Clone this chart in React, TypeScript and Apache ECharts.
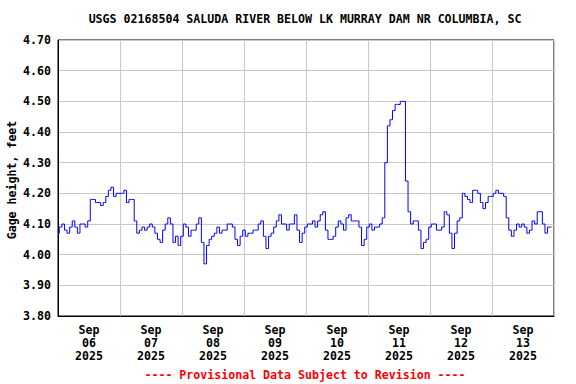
import React, { useEffect, useRef } from "react";
import * as echarts from "echarts";

// Hourly gage height (ft), starting at 00:00 of each day
const sep06 = [4.07, 4.09, 4.10, 4.08, 4.07, 4.09, 4.11, 4.09, 4.07, 4.10, 4.10, 4.09, 4.11, 4.18, 4.18, 4.17, 4.17, 4.16, 4.17, 4.19, 4.21, 4.22, 4.19, 4.20];
const sep07 = [4.20, 4.20, 4.21, 4.17, 4.18, 4.18, 4.11, 4.07, 4.08, 4.09, 4.08, 4.09, 4.10, 4.09, 4.07, 4.05, 4.04, 4.08, 4.10, 4.12, 4.10, 4.04, 4.06, 4.03];
const sep08 = [4.06, 4.10, 4.09, 4.06, 4.08, 4.08, 4.10, 4.12, 4.04, 3.97, 4.03, 4.05, 4.06, 4.07, 4.09, 4.07, 4.08, 4.08, 4.10, 4.10, 4.09, 4.05, 4.03, 4.06];
const sep09 = [4.08, 4.06, 4.07, 4.07, 4.08, 4.08, 4.10, 4.11, 4.06, 4.02, 4.06, 4.07, 4.09, 4.11, 4.13, 4.10, 4.10, 4.08, 4.10, 4.10, 4.13, 4.08, 4.04, 4.07];
const sep10 = [4.09, 4.10, 4.10, 4.11, 4.09, 4.11, 4.13, 4.14, 4.08, 4.05, 4.05, 4.06, 4.09, 4.11, 4.10, 4.08, 4.12, 4.13, 4.11, 4.11, 4.11, 4.09, 4.03, 4.05];
const sep11 = [4.09, 4.10, 4.08, 4.09, 4.09, 4.10, 4.12, 4.30, 4.42, 4.44, 4.47, 4.49, 4.49, 4.50, 4.50, 4.24, 4.14, 4.10, 4.11, 4.11, 4.08, 4.02, 4.04, 4.05];
const sep12 = [4.09, 4.10, 4.10, 4.08, 4.08, 4.09, 4.14, 4.13, 4.07, 4.02, 4.07, 4.11, 4.12, 4.20, 4.19, 4.18, 4.17, 4.21, 4.21, 4.20, 4.17, 4.15, 4.17, 4.19];
const sep13 = [4.19, 4.20, 4.21, 4.20, 4.20, 4.19, 4.12, 4.08, 4.06, 4.08, 4.10, 4.09, 4.10, 4.09, 4.07, 4.08, 4.11, 4.10, 4.14, 4.14, 4.10, 4.07, 4.09, 4.09];

const days = [sep06, sep07, sep08, sep09, sep10, sep11, sep12, sep13];
const dayLabels = ["Sep\n06\n2025", "Sep\n07\n2025", "Sep\n08\n2025", "Sep\n09\n2025", "Sep\n10\n2025", "Sep\n11\n2025", "Sep\n12\n2025", "Sep\n13\n2025"];
const yTicks = [3.8, 3.9, 4.0, 4.1, 4.2, 4.3, 4.4, 4.5, 4.6, 4.7];

const titleText = "USGS 02168504 SALUDA RIVER BELOW LK MURRAY DAM NR COLUMBIA, SC";
const footerText = "---- Provisional Data Subject to Revision ----";
const yName = "Gage height, feet";

const FONT = "'DejaVu Sans Mono', 'Liberation Mono', monospace";

export default function App() {
  const ref = useRef<HTMLDivElement>(null);
  useEffect(() => {
    if (!ref.current) return;
    const chart = echarts.init(ref.current, undefined, { renderer: "svg" });
    const data: [number, number][] = [];
    days.forEach((arr, d) => arr.forEach((v, h) => data.push([d * 24 + h, v])));
    chart.setOption({
      animation: false,
      backgroundColor: "#fff",
      grid: {
        left: 58, right: 22, top: 40, bottom: 68,
        containLabel: false, outerBoundsMode: "none",
        show: true, borderColor: "#000", borderWidth: 1, backgroundColor: "transparent",
      },
      xAxis: [
        { type: "value", min: 0, max: 192, show: false },
        {
          type: "category",
          data: dayLabels,
          boundaryGap: true,
          position: "bottom",
          axisLine: { show: true, lineStyle: { color: "#000", width: 1 } },
          axisTick: { show: false },
          axisLabel: { fontFamily: FONT, fontWeight: "bold", fontSize: 11.6, color: "#000", lineHeight: 13, margin: 7, interval: 0 },
          splitLine: { show: true, interval: 0, lineStyle: { color: "#c8c8c8", width: 1 } },
        },
      ],
      yAxis: {
        type: "value",
        min: yTicks[0],
        max: yTicks[yTicks.length - 1],
        interval: 0.1,
        axisLine: { show: true, lineStyle: { color: "#000", width: 1 } },
        axisTick: { show: false },
        axisLabel: { fontFamily: FONT, fontWeight: "bold", fontSize: 11.6, color: "#000", margin: 7, formatter: (v: number) => v.toFixed(2) },
        splitLine: { show: true, lineStyle: { color: "#c8c8c8", width: 1 } },
      },
      series: [
        {
          type: "line",
          xAxisIndex: 0,
          data,
          step: "middle",
          showSymbol: false,
          symbol: "none",
          lineStyle: { color: "#0000ff", width: 1 },
        },
      ],
      graphic: [
        { type: "text", x: 305, y: 19, style: { text: titleText, fontFamily: FONT, fontWeight: "bold", fontSize: 11.6, fill: "#000", textAlign: "center", textVerticalAlign: "middle" } },
        { type: "text", x: 12, y: 180, rotation: Math.PI / 2, style: { text: yName, fontFamily: FONT, fontWeight: "bold", fontSize: 11.6, fill: "#000", textAlign: "center", textVerticalAlign: "middle" } },
        { type: "text", x: 305, y: 375, style: { text: footerText, fontFamily: FONT, fontWeight: "bold", fontSize: 11.6, fill: "#ff0000", textAlign: "center", textVerticalAlign: "middle" } },
      ],
    });
    return () => chart.dispose();
  }, []);
  return <div ref={ref} style={{ width: 576, height: 384, position: "absolute", left: 0, top: 0 }} />;
}
